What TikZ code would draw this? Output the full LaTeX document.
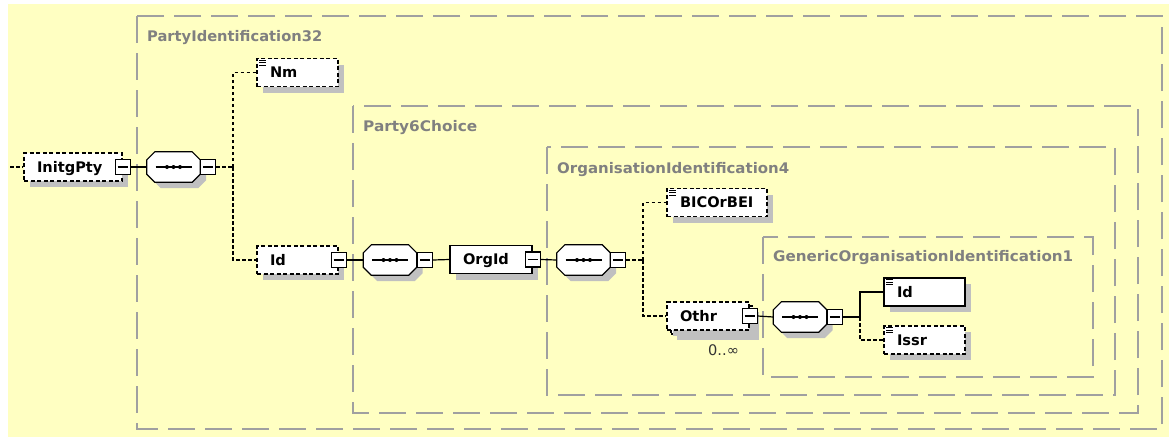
\documentclass[tikz,border=0pt]{standalone}
\usepackage{fontspec}
\usepackage{graphicx}
\setmainfont{DejaVu Sans}
\usetikzlibrary{shadows}
\definecolor{bgyellow}{RGB}{255,255,194}
\definecolor{framegray}{RGB}{160,160,160}
\definecolor{titlegray}{RGB}{128,128,128}
\definecolor{shadowgray}{RGB}{192,192,192}
\tikzset{
  frame/.style={draw=framegray, line width=1.3pt, dash pattern=on 27pt off 10pt},
  titletext/.style={anchor=west, text=titlegray, inner sep=0pt, text height=10.6pt, text depth=0pt,
    font=\fontsize{14.6}{16}\selectfont\bfseries},
  elem/.style={draw=black, fill=white, line width=1.2pt, minimum height=28pt, inner xsep=13pt, inner ysep=0pt,
    align=left, text height=10.6pt, text depth=0pt, font=\fontsize{14.6}{16}\selectfont\bfseries,
    general shadow={fill=shadowgray, shadow xshift=6pt, shadow yshift=-6pt}},
  optelem/.style={elem, dash pattern=on 4pt off 2.5pt},
  seqbox/.style={draw=none, minimum width=53pt, minimum height=30pt, inner sep=0pt},
  seqline/.style={draw=black, fill=white, line width=1.2pt},
  seqshadow/.style={fill=shadowgray, transform canvas={xshift=6pt, yshift=-6pt}},
  minusbox/.style={draw=black, fill=white, line width=1.1pt, minimum width=15pt, minimum height=15pt, inner sep=0pt,
    path picture={\draw[line width=1.1pt] ([xshift=-5pt]path picture bounding box.center) -- ([xshift=5pt]path picture bounding box.center);}},
  reqline/.style={draw=black, line width=1.2pt},
  optline/.style={draw=black, line width=1.2pt, dash pattern=on 3.5pt off 2.5pt},
  iconline/.style={draw=black, line width=0.8pt},
  multtext/.style={anchor=west, inner sep=0pt, text=black!80, font=\fontsize{14.6}{16}\selectfont}
}
\newcommand\octpath[2]{%
  \path[#2] ([xshift=8pt]#1.north west) -- ([xshift=-8pt]#1.north east) -- ([yshift=-8pt]#1.north east)
    -- ([yshift=8pt]#1.south east) -- ([xshift=-8pt]#1.south east) -- ([xshift=8pt]#1.south west)
    -- ([yshift=8pt]#1.south west) -- ([yshift=-8pt]#1.north west) -- cycle;}
\newcommand\seqdraw[1]{%
  \octpath{#1}{seqshadow}
  \octpath{#1}{seqline}
  \draw[line width=1.2pt] ([xshift=-18pt]#1.center) -- ([xshift=18pt]#1.center);
  \fill ([xshift=-6.5pt]#1.center) circle (2pt);
  \fill (#1.center) circle (2pt);
  \fill ([xshift=6.5pt]#1.center) circle (2pt);}
\newcommand\simpleicon[1]{%
  \draw[iconline] ([xshift=3pt,yshift=-2pt]#1.north west) -- ++(7pt,0pt);
  \draw[iconline] ([xshift=3pt,yshift=-4.5pt]#1.north west) -- ++(7pt,0pt);
  \draw[iconline] ([xshift=3pt,yshift=-7pt]#1.north west) -- ++(7pt,0pt);}
\begin{document}
\begin{tikzpicture}[x=1pt,y=-1pt]
\useasboundingbox (0,0) rectangle (1169,437);
\fill[white] (0,0) rectangle (1169,437);
\fill[bgyellow] (8,4) rectangle (1169,437);
% frames
\draw[frame] (137,16) rectangle (1162,429);
\draw[frame] (353,106) rectangle (1138,413);
\draw[frame] (547,147) rectangle (1115,395);
\draw[frame] (763,237) rectangle (1093,377);
\node[titletext] (t1) at (147,36) {\resizebox{175pt}{\height}{PartyIdentification32}};
\node[titletext] (t2) at (363,126) {\resizebox{114pt}{\height}{Party6Choice}};
\node[titletext] (t3) at (557,168) {\resizebox{232pt}{\height}{OrganisationIdentification4}};
\node[titletext] (t4) at (773,256) {\resizebox{300pt}{\height}{GenericOrganisationIdentification1}};
% junction coordinates
\coordinate (lead) at (10,167);
\coordinate (j1) at (233,167);
\coordinate (j3) at (643,260);
\coordinate (j4) at (860,317);
% elements
\node[optelem, text width=72pt] (initg) at (73,167) {InitgPty};
\node[seqbox] (s1) at (173.5,167) {};
\seqdraw{s1}
\node[optelem, text width=55pt] (nm) at (297.5,72.5) {Nm};
\node[optelem, text width=55pt] (id1) at (297.5,260) {Id};
\node[seqbox] (s2) at (390,260) {};
\seqdraw{s2}
\node[elem, text width=56pt] (orgid) at (491,259.5) {OrgId};
\node[seqbox] (s3) at (583.5,260) {};
\seqdraw{s3}
\node[optelem, text width=74pt] (bic) at (717,202.5) {BICOrBEI};
\node[optelem, minimum width=82pt, text width=56pt] (othrb) at (712,320) {};
\node[optelem, text width=56pt, general shadow={fill=none}] (othr) at (708,316) {Othr};
\node[seqbox] (s4) at (800,317) {};
\seqdraw{s4}
\node[elem, text width=55pt] (id2) at (924.5,292) {Id};
\node[optelem, text width=55pt] (issr) at (924.5,340) {Issr};
\node[multtext] (mult) at (708,350) {0..∞};
% icons
\simpleicon{nm}
\simpleicon{bic}
\simpleicon{id2}
\simpleicon{issr}
% minus buttons
\node[minusbox] (initgm) at (initg.east) {};
\node[minusbox, anchor=west] (s1m) at (s1.east) {};
\node[minusbox] (id1m) at (id1.east) {};
\node[minusbox, anchor=west] (s2m) at (s2.east) {};
\node[minusbox] (orgidm) at (orgid.east) {};
\node[minusbox, anchor=west] (s3m) at (s3.east) {};
\node[minusbox] (othrm) at (othr.east) {};
\node[minusbox, anchor=west] (s4m) at (s4.east) {};
% connectors
\draw[optline] (lead) -- (initg.west);
\draw[reqline] (initgm.east) -- (s1.west);
\draw[optline] (s1m.east) -- (j1);
\draw[optline] (j1) |- (nm.west);
\draw[optline] (j1) |- (id1.west);
\draw[reqline] (id1m.east) -- (s2.west);
\draw[reqline] (s2m.east) -- (orgid.west);
\draw[reqline] (orgidm.east) -- (s3.west);
\draw[optline] (s3m.east) -- (j3);
\draw[optline] (j3) |- (bic.west);
\draw[optline] (j3) |- (othr.west);
\draw[reqline] (othrm.east) -- (s4.west);
\draw[reqline] (s4m.east) -- (j4);
\draw[reqline] (j4) |- (id2.west);
\draw[optline] (j4) |- (issr.west);
\end{tikzpicture}
\end{document}
